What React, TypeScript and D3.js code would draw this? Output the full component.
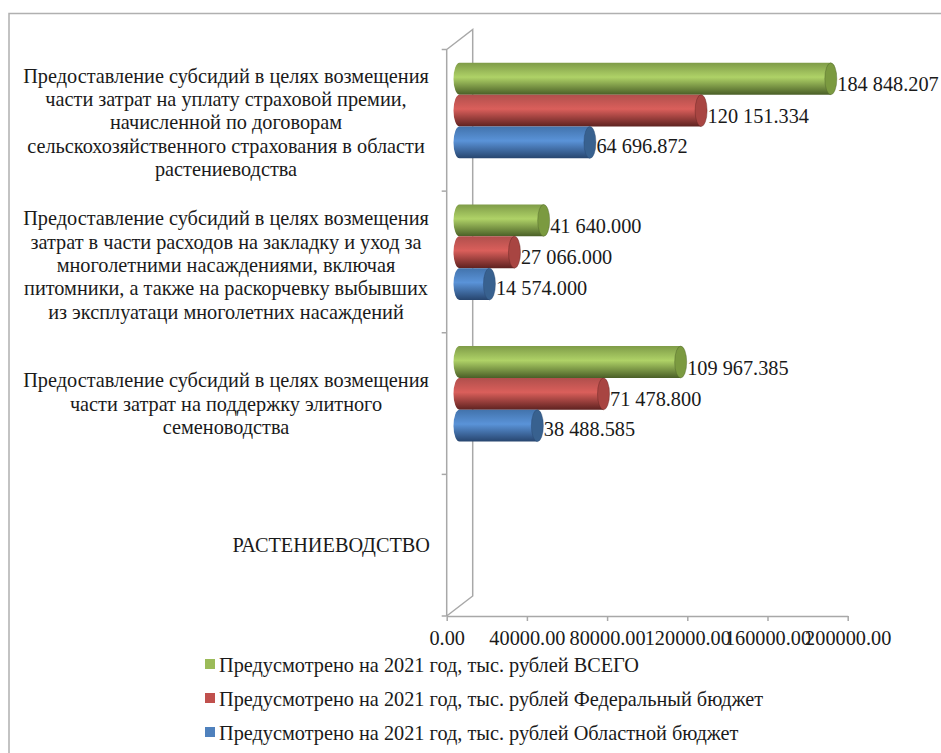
import React, { useEffect, useRef } from 'react';
import * as d3 from 'd3';

// top to bottom, last category has no values
const categoryLines: string[][] = [
	[
		'Предоставление субсидий в целях возмещения',
		'части затрат на уплату страховой премии,',
		'начисленной по договорам',
		'сельскохозяйственного страхования в области',
		'растениеводства',
	],
	[
		'Предоставление субсидий в целях возмещения',
		'затрат в части расходов на закладку и уход за',
		'многолетними насаждениями, включая',
		'питомники, а также на раскорчевку выбывших',
		'из эксплуатаци многолетних насаждений',
	],
	[
		'Предоставление субсидий в целях возмещения',
		'части затрат на поддержку элитного',
		'семеноводства',
	],
	['РАСТЕНИЕВОДСТВО'],
];

const totalValues = [184848.207, 41640.0, 109967.385, null];
const federalValues = [120151.334, 27066.0, 71478.8, null];
const regionalValues = [64696.872, 14574.0, 38488.585, null];

const seriesNames = [
	'Предусмотрено на 2021 год, тыс. рублей ВСЕГО',
	'Предусмотрено на 2021 год, тыс. рублей Федеральный бюджет',
	'Предусмотрено на 2021 год, тыс. рублей Областной бюджет',
];
const seriesValues = [totalValues, federalValues, regionalValues];

const xTicks = [0, 40000, 80000, 120000, 160000, 200000];

// top, mid, bottom, cap
const seriesColors = [
	['#7f9c48', '#afd267', '#4a5f27', '#7b9a40'],
	['#b04f4c', '#da5f5b', '#5e2220', '#a84542'],
	['#4273ac', '#5a93d8', '#27456e', '#38618f'],
];
const legendColors = ['#9bbb59', '#c0504d', '#4f81bd'];

const width = 941;
const height = 753;
const fontFamily = '"Liberation Serif", "Times New Roman", serif';
const fontSize = 20.3;
const textColor = '#1a1a1a';
const wallColor = '#a8a8a8';

const App: React.FC = () => {
	const ref = useRef<SVGSVGElement>(null);

	useEffect(() => {
		if (!ref.current) return;
		const svg = d3.select(ref.current);
		svg.selectAll('*').remove();

		const x = d3.scaleLinear().domain([0, 200000]).range([446.7, 847.7]);
		const y = d3
			.scaleBand<number>()
			.domain(d3.range(categoryLines.length))
			.range([49.5, 616]);
		const inner = d3
			.scaleBand<number>()
			.domain(d3.range(seriesNames.length))
			.range([0, y.bandwidth()])
			.paddingOuter(0.725)
			.paddingInner(0);

		// 3D depth of the bars and of the side wall
		const barDx = 13.5;
		const barDy = -9.7;
		const wallDx = 26;
		const wallDy = -20;
		const capRx = 6;

		// outer frame
		svg
			.append('path')
			.attr('d', `M9,${height}V13.5H${width}`)
			.attr('fill', 'none')
			.attr('stroke', '#b0b0b0')
			.attr('stroke-width', 1.5);

		// side wall
		const x0 = x(0);
		const yTop = y.range()[0];
		const yBottom = y.range()[1];
		const wall = d3.path();
		wall.moveTo(x0, yBottom);
		wall.lineTo(x0, yTop);
		wall.lineTo(x0 + wallDx, yTop + wallDy);
		wall.lineTo(x0 + wallDx, yBottom + wallDy);
		wall.lineTo(x0, yBottom);
		svg
			.append('path')
			.attr('d', wall.toString())
			.attr('fill', 'none')
			.attr('stroke', wallColor)
			.attr('stroke-width', 1.5);

		// category ticks on the front edge
		svg
			.append('g')
			.selectAll('line')
			.data(d3.range(categoryLines.length + 1))
			.join('line')
			.attr('x1', x0 - 5)
			.attr('x2', x0)
			.attr('y1', (i) => yTop + i * y.step())
			.attr('y2', (i) => yTop + i * y.step())
			.attr('stroke', wallColor)
			.attr('stroke-width', 1.5);

		// x axis
		const xAxis = svg
			.append('g')
			.attr('transform', `translate(0,${yBottom})`)
			.call(
				d3
					.axisBottom(x)
					.tickValues(xTicks)
					.tickSize(5)
					.tickSizeOuter(0)
					.tickPadding(10)
					.tickFormat(d3.format('.2f') as any),
			);
		xAxis.selectAll('path,line').attr('stroke', wallColor).attr('stroke-width', 1.5);
		xAxis
			.selectAll('text')
			.attr('fill', textColor)
			.style('font-family', fontFamily)
			.style('font-size', `${fontSize}px`);

		// gradients
		const defs = svg.append('defs');
		seriesColors.forEach((c, i) => {
			const g = defs
				.append('linearGradient')
				.attr('id', `cyl-${i}`)
				.attr('x1', 0)
				.attr('x2', 0)
				.attr('y1', 0)
				.attr('y2', 1);
			g.append('stop').attr('offset', '0%').attr('stop-color', c[0]);
			g.append('stop').attr('offset', '45%').attr('stop-color', c[1]);
			g.append('stop').attr('offset', '100%').attr('stop-color', c[2]);
		});

		const valueFormat = d3
			.formatLocale({
				decimal: '.',
				thousands: ' ',
				grouping: [3],
				currency: ['', ''],
			})
			.format(',.3f');

		// value labels sit a bit closer together than the bars
		const labelOffsets = [12.5, 12, 10.5];

		// cylinders
		const bars = svg.append('g');
		seriesValues.forEach((values, s) => {
			values.forEach((v, c) => {
				if (v === null) return;
				const top = (y(c) as number) + (inner(s) as number) + barDy;
				const h = inner.bandwidth();
				const left = x(0) + barDx - 0.7;
				const right = x(v) + barDx;
				const ry = h / 2;
				bars
					.append('path')
					.attr(
						'd',
						`M${left},${top}H${right}V${top + h}H${left}A${capRx},${ry} 0 0 1 ${left},${top}Z`,
					)
					.attr('fill', `url(#cyl-${s})`);
				bars
					.append('ellipse')
					.attr('cx', right)
					.attr('cy', top + ry)
					.attr('rx', capRx)
					.attr('ry', ry)
					.attr('fill', seriesColors[s][3])
					.attr('stroke', seriesColors[s][2])
					.attr('stroke-opacity', 0.5)
					.attr('stroke-width', 0.8);
				svg
					.append('text')
					.attr('x', right + capRx + 0.5)
					.attr('y', top + ry + labelOffsets[s])
					.attr('fill', textColor)
					.style('font-family', fontFamily)
					.style('font-size', `${fontSize}px`)
					.text(valueFormat(v));
			});
		});

		// category labels
		const labelLineHeight = 23.3;
		const labelNudge = [2, 3, 0, 0];
		categoryLines.forEach((lines, c) => {
			const single = lines.length === 1;
			const centre = (y(c) as number) + y.bandwidth() / 2;
			const startY =
				centre - ((lines.length - 1) * labelLineHeight) / 2 + 7 + labelNudge[c];
			const text = svg
				.append('text')
				.attr('fill', textColor)
				.attr('text-anchor', single ? 'end' : 'middle')
				.style('font-family', fontFamily)
				.style('font-size', `${fontSize}px`);
			lines.forEach((line, i) => {
				text
					.append('tspan')
					.attr('x', single ? 430 : 226)
					.attr('y', startY + i * labelLineHeight)
					.text(line);
			});
		});

		// legend
		const legendY = d3
			.scalePoint<number>()
			.domain(d3.range(seriesNames.length))
			.range([664, 732]);
		seriesNames.forEach((name, i) => {
			const ly = legendY(i) as number;
			svg
				.append('rect')
				.attr('x', 205)
				.attr('y', ly - 5)
				.attr('width', 10)
				.attr('height', 10)
				.attr('fill', legendColors[i]);
			svg
				.append('text')
				.attr('x', 219)
				.attr('y', ly + 8)
				.attr('fill', textColor)
				.style('font-family', fontFamily)
				.style('font-size', `${fontSize}px`)
				.text(name);
		});
	}, []);

	return (
		<svg
			ref={ref}
			width={width}
			height={height}
			viewBox={`0 0 ${width} ${height}`}
			style={{ position: 'absolute', left: 0, top: 0, background: '#fff' }}
		/>
	);
};

export default App;
